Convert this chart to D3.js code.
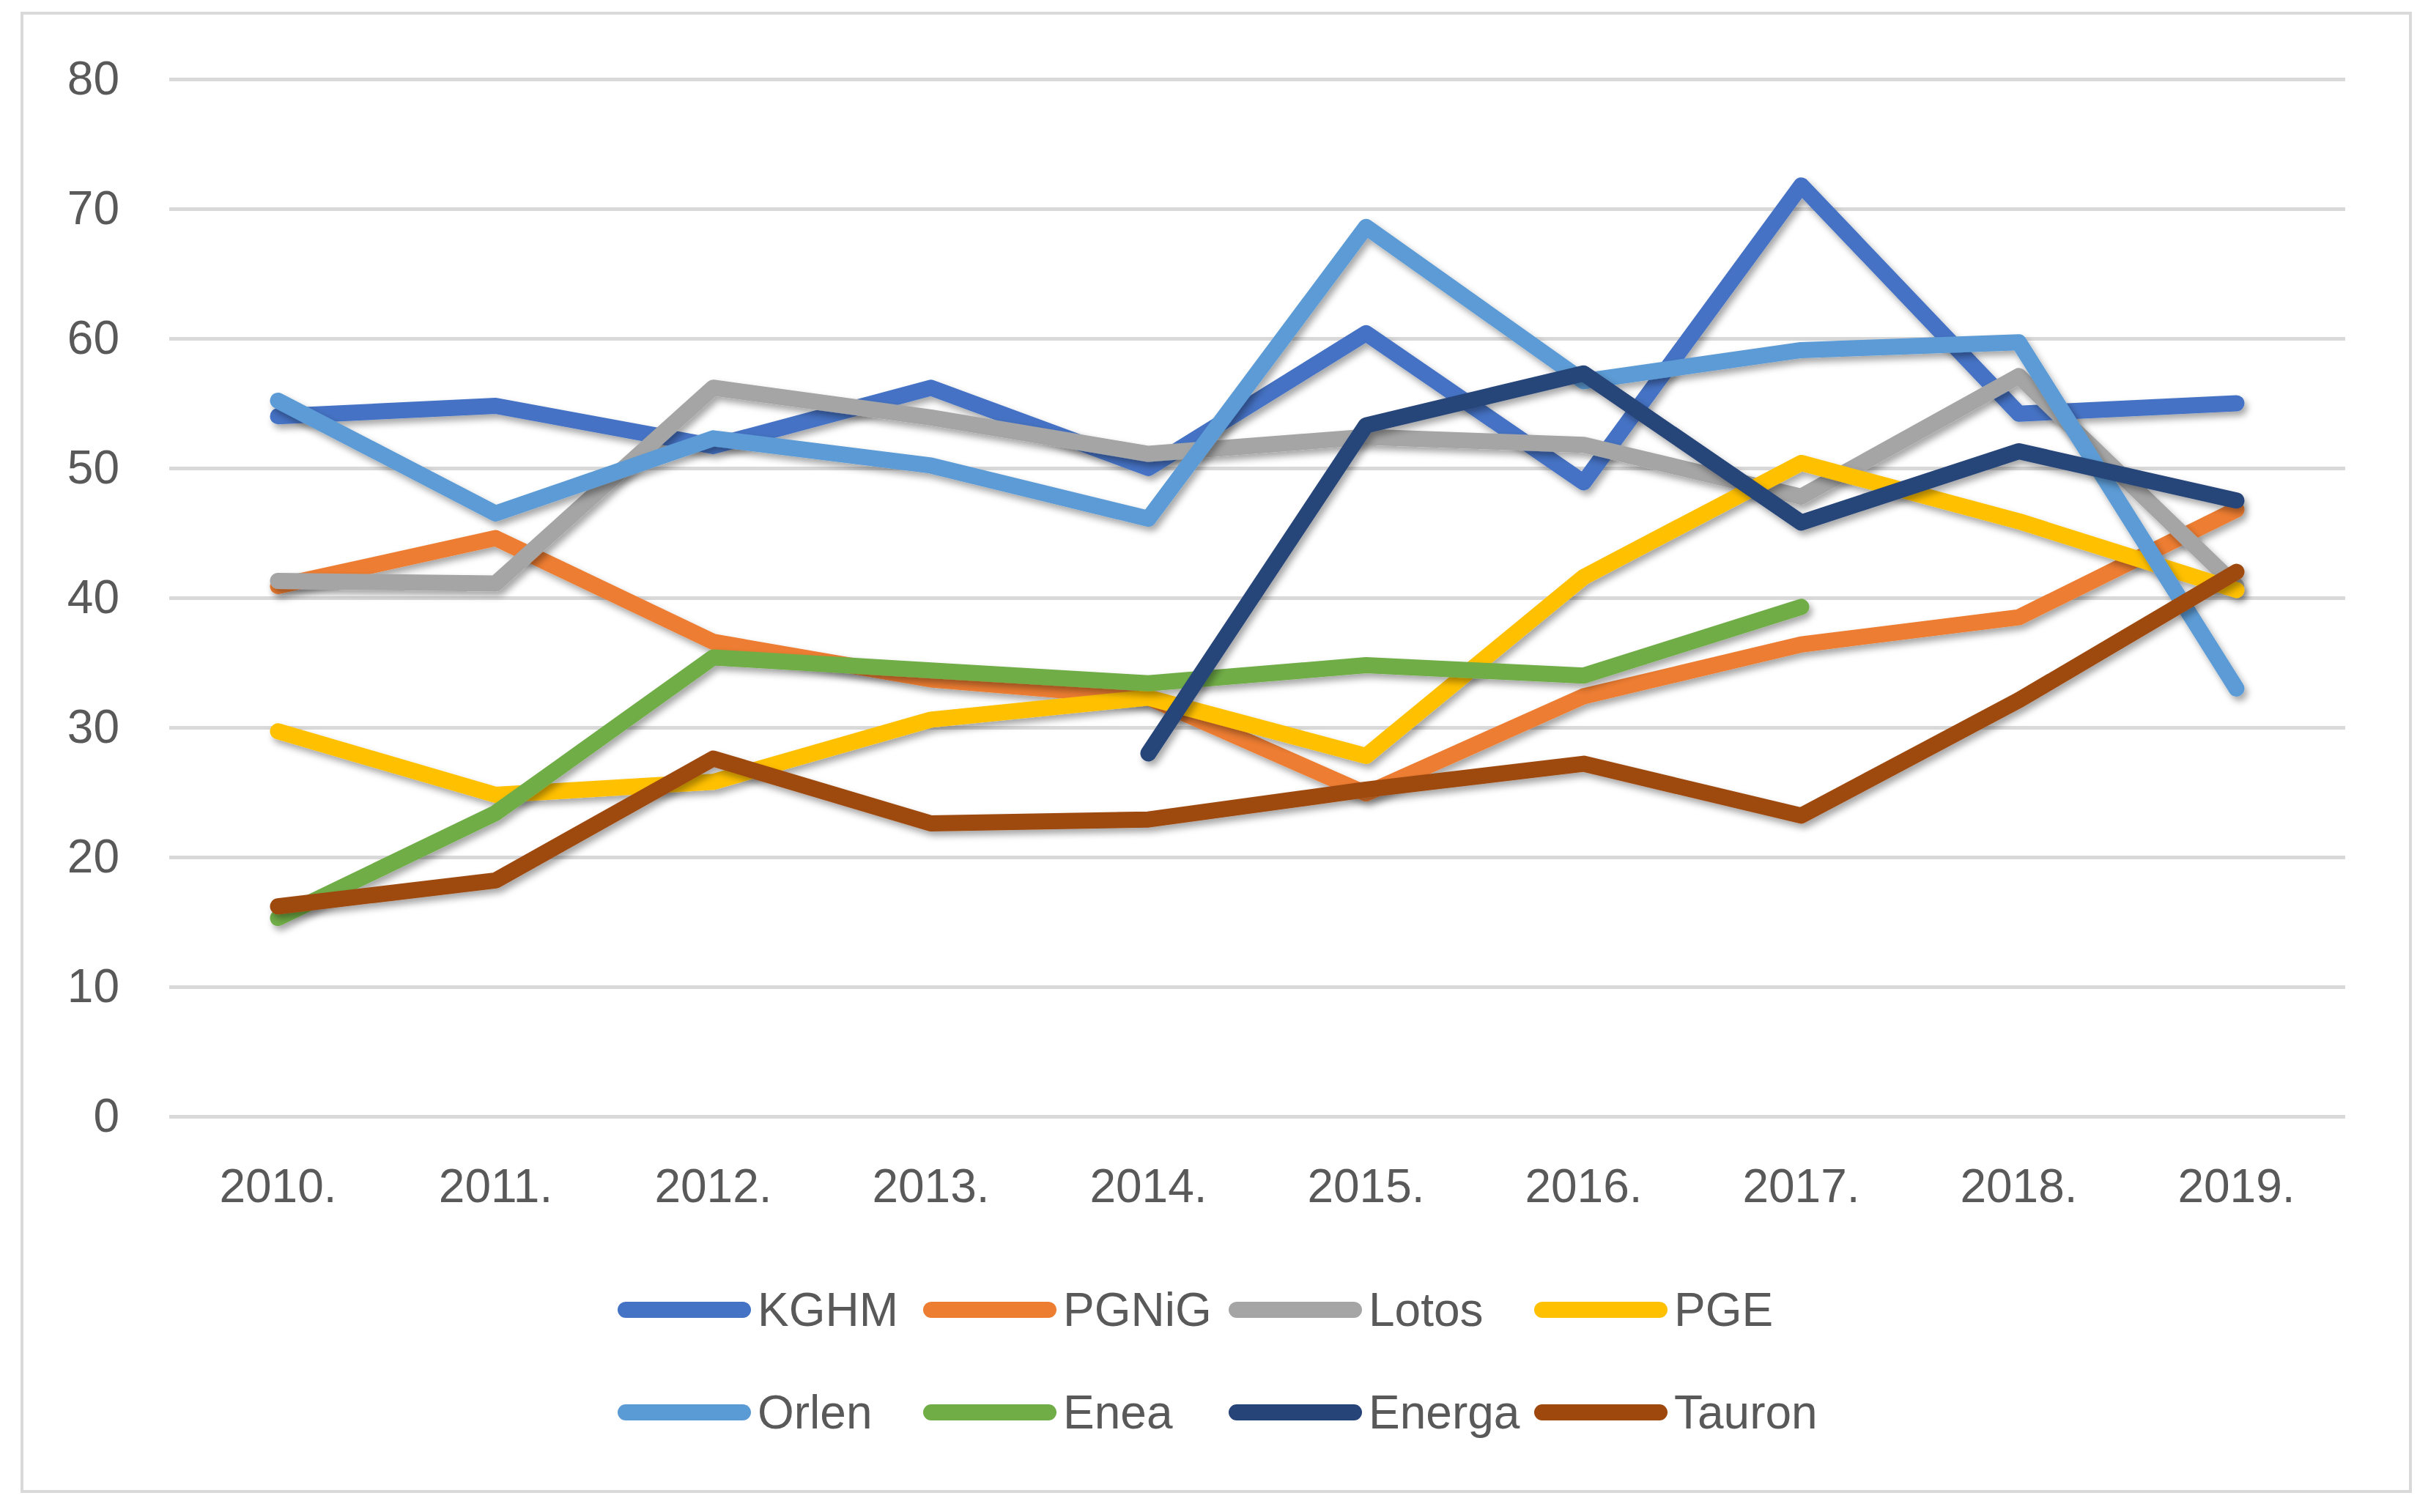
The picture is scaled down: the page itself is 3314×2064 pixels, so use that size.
<!DOCTYPE html>
<html>
<head>
<meta charset="utf-8">
<script src="https://cdn.jsdelivr.net/npm/d3@7"></script>
<style>
  body { margin: 0; background: #fff; }
  text { font-family: "Liberation Sans", Arial, sans-serif; fill: #595959; }
</style>
</head>
<body>
<div id="chart"></div>
<script>
// Data
const years = ["2010.", "2011.", "2012.", "2013.", "2014.", "2015.", "2016.", "2017.", "2018.", "2019."];
const yTicks = [0, 10, 20, 30, 40, 50, 60, 70, 80];

const kghm   = [54.0, 54.8, 51.7, 56.2, 50.0, 60.4, 48.9, 71.8, 54.2, 55.0];
const pgnig  = [40.9, 44.6, 36.6, 33.7, 32.3, 24.9, 32.4, 36.4, 38.5, 46.8];
const lotos  = [41.3, 41.1, 56.2, 53.9, 51.1, 52.4, 51.8, 47.8, 57.1, 40.9];
const pge    = [29.7, 24.8, 25.8, 30.6, 32.3, 27.8, 41.6, 50.4, 45.9, 40.6];
const orlen  = [55.2, 46.5, 52.3, 50.2, 46.1, 68.6, 56.7, 59.1, 59.7, 33.0];
const enea   = [15.3, 23.4, 35.4, 34.4, 33.4, 34.8, 34.0, 39.3, null, null];
const energa = [null, null, null, null, 28.0, 53.3, 57.3, 45.8, 51.3, 47.5];
const tauron = [16.2, 18.2, 27.6, 22.6, 22.9, 25.2, 27.2, 23.2, 32.1, 42.0];

const seriesNames  = ["KGHM", "PGNiG", "Lotos", "PGE", "Orlen", "Enea", "Energa", "Tauron"];
const seriesValues = [kghm, pgnig, lotos, pge, orlen, enea, energa, tauron];
const seriesColors = ["#4472C4", "#ED7D31", "#A5A5A5", "#FFC000", "#5B9BD5", "#70AD47", "#264478", "#9E480E"];

const W = 3314, H = 2064;
const plot = { left: 231, right: 3201, top: 108, bottom: 1524 };

const svg = d3.select("#chart").append("svg")
  .attr("width", W)
  .attr("height", H);

// drop shadow like the Excel line effect
const defs = svg.append("defs");
defs.append("filter")
  .attr("id", "shadow")
  .attr("x", "-10%").attr("y", "-10%")
  .attr("width", "120%").attr("height", "130%")
  .append("feDropShadow")
  .attr("dx", 4)
  .attr("dy", 6)
  .attr("stdDeviation", 5)
  .attr("flood-color", "#000")
  .attr("flood-opacity", 0.35);

// chart border
svg.append("rect")
  .attr("x", 30).attr("y", 18)
  .attr("width", 3260).attr("height", 2018)
  .attr("fill", "#fff")
  .attr("stroke", "#D9D9D9")
  .attr("stroke-width", 4);

const x = d3.scaleBand()
  .domain(years)
  .range([plot.left, plot.right]);

const y = d3.scaleLinear()
  .domain([0, 80])
  .range([plot.bottom, plot.top]);

// gridlines + y labels
const yAxis = svg.append("g")
  .attr("transform", `translate(${plot.left},0)`)
  .call(d3.axisLeft(y).tickValues(yTicks).tickSize(-(plot.right - plot.left)).tickPadding(68));
yAxis.select(".domain").remove();
yAxis.selectAll(".tick line").attr("stroke", "#D9D9D9").attr("stroke-width", 5);
yAxis.selectAll(".tick text")
  .attr("font-size", 64)
  .style("font-family", "'Liberation Sans', Arial, sans-serif")
  .attr("fill", "#595959");

// x labels
const xAxis = svg.append("g")
  .attr("transform", `translate(0,${plot.bottom})`)
  .call(d3.axisBottom(x).tickSize(0).tickPadding(72));
xAxis.select(".domain").remove();
xAxis.selectAll(".tick text")
  .attr("font-size", 64)
  .style("font-family", "'Liberation Sans', Arial, sans-serif")
  .attr("fill", "#595959");

// lines
const line = d3.line()
  .defined(d => d != null)
  .x((d, i) => x(years[i]) + x.bandwidth() / 2)
  .y(d => y(d));

seriesValues.forEach((vals, k) => {
  svg.append("path")
    .datum(vals)
    .attr("fill", "none")
    .attr("stroke", seriesColors[k])
    .attr("stroke-width", 22)
    .attr("stroke-linejoin", "round")
    .attr("stroke-linecap", "round")
    .attr("filter", "url(#shadow)")
    .attr("d", line.x((d, i) => x(years[i]) + x.bandwidth() / 2));
});

// legend, 4 per row
const legendX0 = 854, legendPitch = 417, legendRowY = [1788, 1928];
seriesNames.forEach((name, k) => {
  const col = k % 4, row = Math.floor(k / 4);
  const lx = legendX0 + col * legendPitch;
  const ly = legendRowY[row];
  svg.append("line")
    .attr("x1", lx).attr("x2", lx + 160)
    .attr("y1", ly).attr("y2", ly)
    .attr("stroke", seriesColors[k])
    .attr("stroke-width", 22)
    .attr("stroke-linecap", "round");
  svg.append("text")
    .attr("x", lx + 180)
    .attr("y", ly + 22)
    .attr("font-size", 64)
    .text(name);
});
</script>
</body>
</html>
